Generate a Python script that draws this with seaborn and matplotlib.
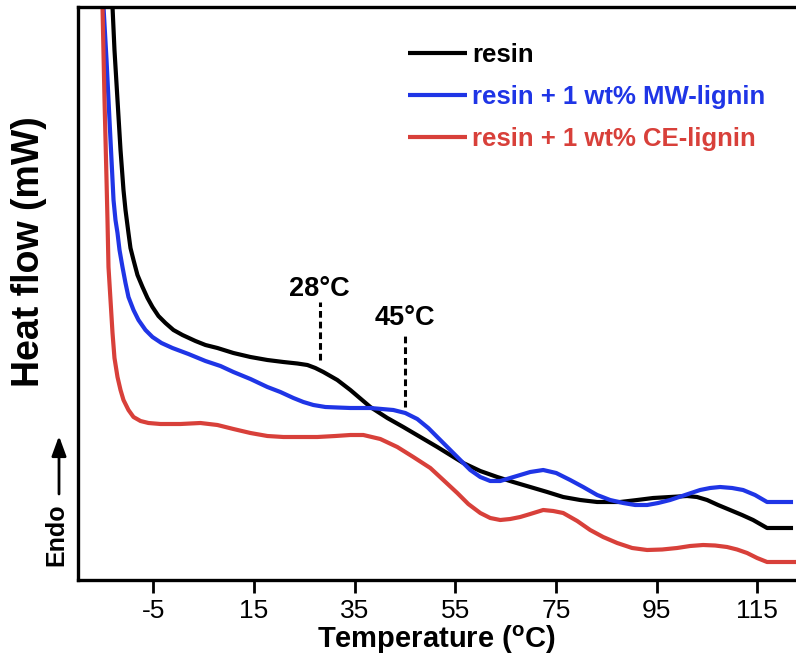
import numpy as np
import pandas as pd
import matplotlib
matplotlib.use("Agg")
import matplotlib.pyplot as plt
import seaborn as sns

# ---------------- data ----------------
resin_T = [-13.34, -13.14, -12.75, -12.15, -11.55, -10.96, -10.56, -9.97, -9.57, -8.97,
           -8.18, -7.18, -6.19, -5.20, -4.01, -2.62, -1.03, 0.76, 3.34, 5.33,
           7.71, 10.89, 14.27, 17.64, 20.82, 23.60, 25.59, 27.17, 28.76, 31.54,
           34.13, 38.10, 41.48, 44.65, 48.03, 51.41, 56.57, 59.95, 63.32, 66.50,
           69.88, 73.25, 76.43, 79.81, 83.18, 87.75, 91.13, 94.31, 97.68, 101.06,
           103.04, 105.03, 107.21, 109.60, 111.98, 114.17, 115.56, 116.95, 122.11]
resin_H = [59.0, 57.3, 53.0, 48.0, 43.0, 39.0, 37.0, 34.7, 33.2, 32.0,
           30.5, 29.3, 28.2, 27.3, 26.4, 25.7, 25.0, 24.5, 23.9, 23.5,
           23.2, 22.7, 22.3, 22.0, 21.8, 21.65, 21.5, 21.2, 20.8, 20.0,
           19.0, 17.3, 16.2, 15.3, 14.3, 13.3, 11.7, 10.9, 10.3, 9.8,
           9.3, 8.8, 8.3, 8.0, 7.8, 7.8, 8.0, 8.2, 8.3, 8.4,
           8.3, 8.0, 7.5, 7.0, 6.5, 6.0, 5.6, 5.2, 5.2]

mw_T = [-15.33, -14.93, -14.33, -13.74, -13.34, -12.94, -12.55, -12.15, -11.75, -11.16,
        -10.56, -9.97, -8.97, -7.98, -6.59, -5.20, -3.41, -1.23, 1.95, 5.33,
        8.31, 10.89, 14.27, 17.64, 20.22, 22.81, 24.79, 26.78, 29.16, 31.54,
        34.13, 38.10, 42.67, 45.05, 47.43, 49.62, 52.00, 55.38, 57.96, 59.95,
        61.93, 63.92, 65.90, 67.89, 69.88, 72.46, 75.04, 77.82, 80.40, 83.18,
        85.76, 88.35, 90.73, 93.11, 95.30, 97.68, 100.66, 103.64, 105.63, 107.61,
        110.00, 112.18, 114.56, 116.95, 122.11]
mw_H = [59.0, 57.3, 52.0, 46.0, 42.0, 38.0, 36.0, 34.7, 33.0, 31.3,
        29.7, 28.3, 27.0, 26.0, 25.0, 24.3, 23.7, 23.2, 22.6, 21.9,
        21.4, 20.8, 20.1, 19.3, 18.8, 18.2, 17.8, 17.5, 17.3, 17.25,
        17.2, 17.2, 17.0, 16.7, 16.1, 15.2, 14.0, 12.3, 11.0, 10.3,
        9.9, 9.9, 10.2, 10.5, 10.8, 11.0, 10.7, 10.0, 9.3, 8.5,
        8.0, 7.7, 7.5, 7.5, 7.7, 8.0, 8.5, 9.0, 9.2, 9.3,
        9.2, 9.0, 8.5, 7.8, 7.8]

ce_T = [-15.53, -15.13, -14.73, -14.33, -14.14, -13.94, -13.54, -13.14, -12.75, -12.15,
        -11.55, -10.96, -9.97, -8.97, -7.58, -5.99, -3.61, 0.36, 4.33, 7.71,
        10.89, 14.27, 17.64, 20.82, 24.20, 27.57, 31.15, 34.13, 36.71, 40.08,
        43.46, 46.64, 50.02, 52.60, 55.38, 57.57, 59.95, 61.93, 63.92, 65.90,
        67.89, 69.88, 72.46, 74.45, 76.43, 79.22, 81.79, 84.37, 87.16, 90.14,
        93.11, 96.09, 99.07, 101.65, 104.24, 106.62, 109.00, 110.99, 112.98, 114.97,
        116.95, 122.71]
ce_H = [59.0, 57.3, 48.0, 40.0, 36.0, 31.3, 28.0, 24.7, 22.2, 20.3,
        19.0, 18.0, 17.0, 16.3, 15.9, 15.7, 15.6, 15.6, 15.7, 15.5,
        15.1, 14.7, 14.4, 14.3, 14.3, 14.3, 14.4, 14.5, 14.5, 14.1,
        13.3, 12.3, 11.2, 10.0, 8.7, 7.6, 6.7, 6.2, 6.0, 6.1,
        6.3, 6.6, 7.0, 6.9, 6.7, 5.9, 5.0, 4.3, 3.7, 3.2,
        3.0, 3.05, 3.2, 3.4, 3.5, 3.45, 3.3, 3.05, 2.7, 2.2,
        1.8, 1.8]

series_labels = ["resin", "resin + 1 wt% MW-lignin", "resin + 1 wt% CE-lignin"]
series_colors = ["#000000", "#1f35e6", "#d8403a"]

x_ticks = [-5, 15, 35, 55, 75, 95, 115]
x_limits = (-20, 122.7)
y_limits = (0, 57.3)

tg_temps = [28, 45]
tg_line_bottom = [22.0, 17.3]
tg_line_top = [27.8, 24.5]
tg_label_y = [29.1, 26.2]
tg_labels = ["28°C", "45°C"]

# ---------------- figure ----------------
sns.set_theme(style="white")
plt.rcParams["font.family"] = ["Liberation Sans", "DejaVu Sans"]
plt.rcParams["mathtext.fontset"] = "custom"
plt.rcParams["mathtext.rm"] = "Liberation Sans:bold"
plt.rcParams["mathtext.bf"] = "Liberation Sans:bold"
plt.rcParams["mathtext.it"] = "Liberation Sans:bold"

W, H = 796, 660
fig = plt.figure(figsize=(W / 100, H / 100), dpi=100)
ax = fig.add_axes([78 / W, 80 / H, (W - 78) / W, 573 / H])

frames = []
for T, Hf, lab in zip([resin_T, mw_T, ce_T], [resin_H, mw_H, ce_H], series_labels):
    frames.append(pd.DataFrame({"T": T, "H": Hf, "series": lab}))
df = pd.concat(frames, ignore_index=True)

for lab, col in zip(series_labels, series_colors):
    sub = df[df["series"] == lab]
    sns.lineplot(data=sub, x="T", y="H", color=col, lw=3.0, sort=False,
                 estimator=None, ax=ax, label=lab, solid_joinstyle="round",
                 solid_capstyle="butt")

ax.set_xlim(*x_limits)
ax.set_ylim(*y_limits)
ax.set_xticks(x_ticks)
ax.set_xticklabels([str(t) for t in x_ticks])
ax.set_yticks([])

for side in ["left", "bottom", "top"]:
    ax.spines[side].set_visible(True)
    ax.spines[side].set_color("black")
    ax.spines[side].set_linewidth(2.4)
ax.spines["right"].set_visible(False)

ax.tick_params(axis="x", direction="out", length=9, width=2.0, color="black",
               labelsize=19, pad=5, labelcolor="black", bottom=True)

ax.set_xlabel("Temperature ($^{\\mathbf{o}}$C)", fontsize=21, fontweight="bold",
              color="black", labelpad=0)
ax.set_ylabel("")

# transition markers
ax.vlines(tg_temps, tg_line_bottom, tg_line_top, colors="black", lw=2.2,
          linestyles=(0, (2.2, 1.3)))
for t, yl, txt in zip(tg_temps, tg_label_y, tg_labels):
    ax.text(t, yl, txt, ha="center", va="center", fontsize=19.5, fontweight="bold",
            color="black")

# legend
leg = ax.legend(loc="upper left", bbox_to_anchor=(408 / W, 1 - 43 / H),
                bbox_transform=fig.transFigure, frameon=False, fontsize=18.5,
                handlelength=2.3, handletextpad=0.2, labelspacing=0.70,
                borderpad=0, borderaxespad=0)
for txt, col in zip(leg.get_texts(), series_colors):
    txt.set_color(col)
    txt.set_fontweight("bold")
for line in leg.get_lines():
    line.set_linewidth(3.0)

# y axis labels
fig.text(29 / W, 1 - 252 / H, "Heat flow (mW)", rotation=90, ha="center", va="center",
         fontsize=27, fontweight="bold", color="black")
fig.text(56 / W, 1 - 535 / H, "Endo", rotation=90, ha="center", va="center",
         fontsize=18, fontweight="bold", color="black")
ax.annotate("", xy=(59 / W, 1 - 436 / H), xytext=(59 / W, 1 - 494 / H),
            xycoords="figure fraction", textcoords="figure fraction",
            arrowprops=dict(arrowstyle="-|>,head_length=0.6,head_width=0.22",
                            lw=2.0, color="black", mutation_scale=20,
                            shrinkA=0, shrinkB=0))

fig.savefig("out.png", dpi=100)
